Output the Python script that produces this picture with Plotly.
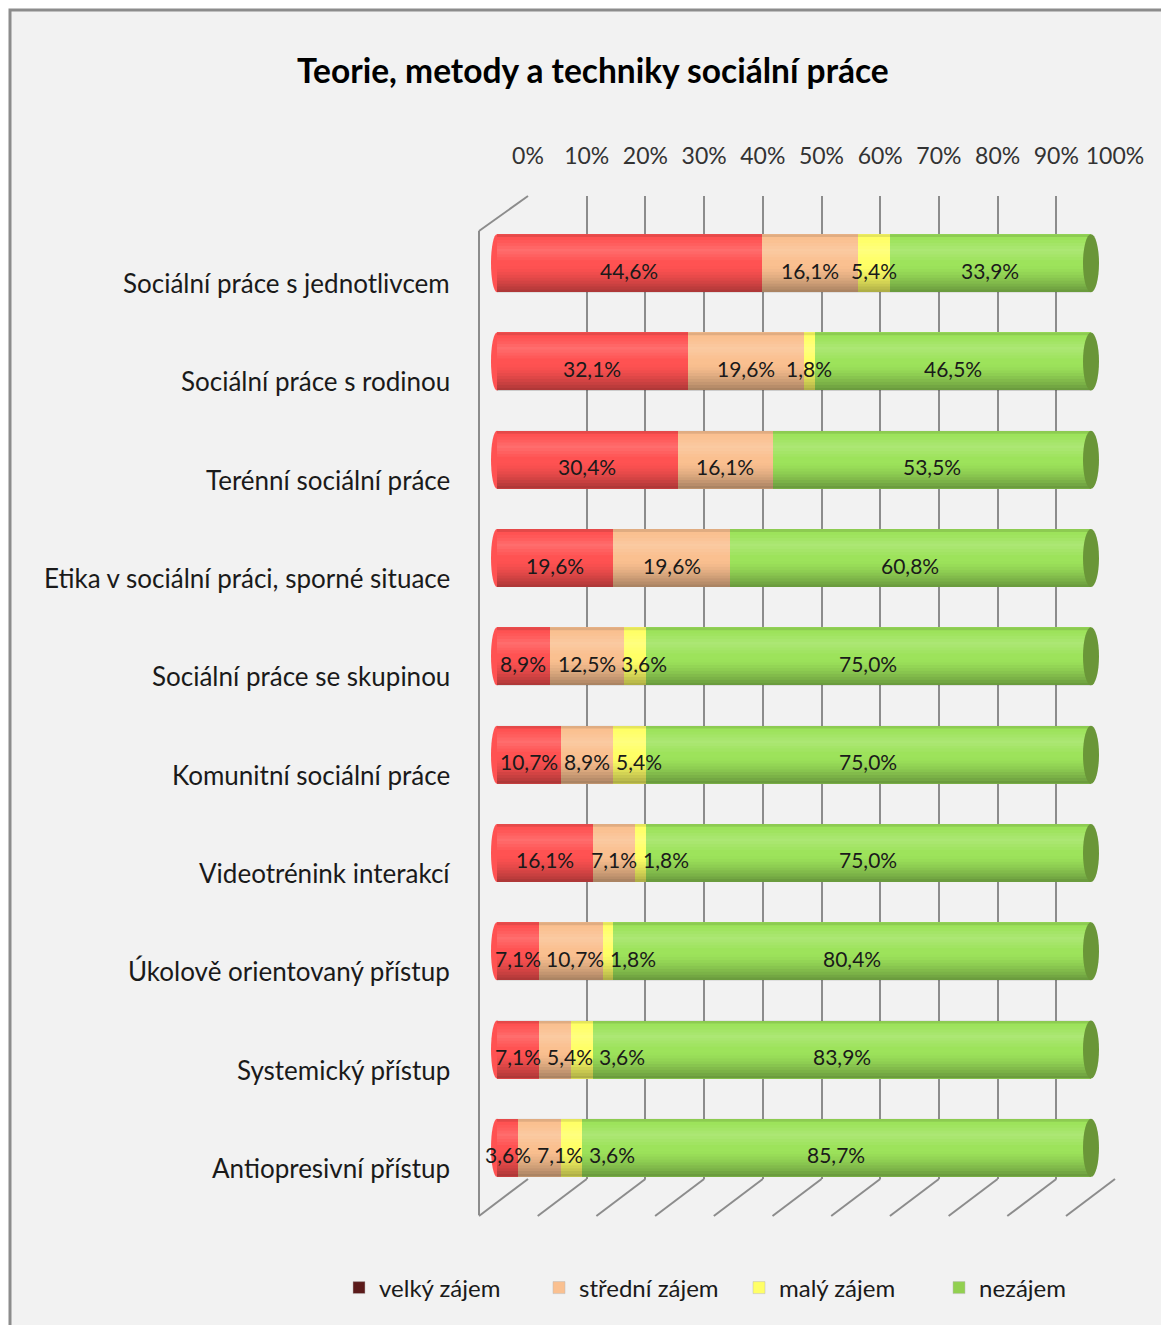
import plotly.graph_objects as go

W, H = 1169, 1325

categories = [
    "Sociální práce s jednotlivcem",
    "Sociální práce s rodinou",
    "Terénní sociální práce",
    "Etika v sociální práci, sporné situace",
    "Sociální práce se skupinou",
    "Komunitní sociální práce",
    "Videotrénink interakcí",
    "Úkolově orientovaný přístup",
    "Systemický přístup",
    "Antiopresivní přístup",
]
velky = [44.6, 32.1, 30.4, 19.6, 8.9, 10.7, 16.1, 7.1, 7.1, 3.6]
stredni = [16.1, 19.6, 16.1, 19.6, 12.5, 8.9, 7.1, 10.7, 5.4, 7.1]
maly = [5.4, 1.8, 0, 0, 3.6, 5.4, 1.8, 1.8, 3.6, 3.6]
nezajem = [33.9, 46.5, 53.5, 60.8, 75.0, 75.0, 75.0, 80.4, 83.9, 85.7]
series_names = ["velký zájem", "střední zájem", "malý zájem", "nezájem"]
tick_values = list(range(0, 101, 10))
tick_labels = [f"{v}%" for v in tick_values]

bar_colors = ["#FF5252", "#FAC090", "#FFFF66", "#9DE35B"]
cap_colors = ["#C83A3A", "#D9A070", "#D8D84A", "#6A9638"]
legend_colors = ["#5B1A1A", "#FAC090", "#FFFF66", "#92D050"]

FONT = "Lato"
OFF = 8  # page body margin


def px_x(p):
    return (p - OFF) / W


def px_y(p):
    return 1 - (p - OFF) / H


def fmt(v):
    return (f"{v:.1f}".replace(".", ",") + "%") if v else ""


# front plane pixel geometry
FRONT0, FRONT100 = 497, 1091
PX_PER_UNIT = (FRONT100 - FRONT0) / 100.0
PAD_UNITS = 2.0  # room for the rounded cylinder ends
CHAR_PX = 10.5
LABEL_GAP = 10.0

all_series = [velky, stredni, maly, nezajem]

# label positions: segment centres, nudged right where labels would collide
label_x = [[None] * len(categories) for _ in all_series]
for i in range(len(categories)):
    cum = 0.0
    prev_right = None
    for s, vals in enumerate(all_series):
        v = vals[i]
        if v:
            centre = cum + v / 2
            half = len(fmt(v)) * CHAR_PX / 2 / PX_PER_UNIT
            if prev_right is not None and centre - half < prev_right + LABEL_GAP / PX_PER_UNIT:
                centre = prev_right + LABEL_GAP / PX_PER_UNIT + half
            label_x[s][i] = centre
            prev_right = centre + half
        cum += v

fig = go.Figure()

# invisible helper trace for the back wall (gridlines + top tick labels)
fig.add_trace(go.Scatter(x=[0, 100], y=[0, 1], mode="markers",
                         marker=dict(opacity=0), hoverinfo="skip",
                         showlegend=False, xaxis="x", yaxis="y"))

for name, vals, col in zip(series_names, all_series, bar_colors):
    fig.add_trace(go.Bar(
        y=categories, x=vals, orientation="h", name=name,
        marker=dict(color=col, line=dict(width=0)),
        showlegend=False, xaxis="x2", yaxis="y2",
    ))

for name, col in zip(series_names, legend_colors):
    fig.add_trace(go.Bar(y=[None], x=[None], orientation="h", name=name,
                         marker=dict(color=col, line=dict(width=0.5, color="#bbbbbb")),
                         showlegend=True, xaxis="x2", yaxis="y2"))

shapes = [
    dict(type="rect", xref="paper", yref="paper", x0=px_x(10), x1=1.05,
         y0=px_y(10), y1=-0.05, fillcolor="#F2F2F2",
         line=dict(color="#8C8C8C", width=3), layer="below"),
]
grid_col = "#8C8C8C"
# left wall
shapes.append(dict(type="line", xref="paper", yref="paper",
                   x0=px_x(479), y0=px_y(231), x1=px_x(479), y1=px_y(1215),
                   line=dict(color=grid_col, width=2), layer="below"))
shapes.append(dict(type="line", xref="paper", yref="paper",
                   x0=px_x(479), y0=px_y(231), x1=px_x(528), y1=px_y(196),
                   line=dict(color=grid_col, width=2), layer="below"))
# floor diagonals from each gridline
for t in tick_values:
    xb = 528 + 5.87 * t
    shapes.append(dict(type="line", xref="paper", yref="paper",
                       x0=px_x(xb), y0=px_y(1179), x1=px_x(xb - 49), y1=px_y(1216),
                       line=dict(color=grid_col, width=2), layer="below"))

# cylinder look: rounded left end, smooth shading bands, right end cap
HALF = 0.295
NB = 20


def shade(t):
    # t: 0 = top edge, 1 = bottom edge -> (rgb, alpha)
    if t < 0.06:
        return "0,0,0", 0.10
    if t < 0.45:
        peak = 1 - abs(t - 0.28) / 0.2
        return "255,255,255", max(0.0, 0.16 * peak)
    if t < 0.55:
        return "0,0,0", 0.0
    return "0,0,0", 0.34 * ((t - 0.55) / 0.45) ** 1.4


for i, c in enumerate(categories):
    total = sum(v[i] for v in all_series)
    first = next(s for s, v in enumerate(all_series) if v[i])
    last = max(s for s, v in enumerate(all_series) if v[i])
    shapes.append(dict(type="circle", xref="x2", yref="y2", xsizemode="pixel",
                       xanchor=0, x0=-6, x1=6, y0=i - HALF, y1=i + HALF,
                       fillcolor=bar_colors[first], line=dict(width=0), layer="below"))
    for k in range(NB):
        t = (k + 0.5) / NB
        rgb, a = shade(t)
        if a <= 0.005:
            continue
        shapes.append(dict(type="rect", xref="x2", yref="y2", x0=0, x1=total,
                           y0=i - HALF + 2 * HALF * k / NB,
                           y1=i - HALF + 2 * HALF * (k + 1) / NB,
                           fillcolor=f"rgba({rgb},{a:.3f})",
                           line=dict(width=0), layer="above"))
    shapes.append(dict(type="circle", xref="x2", yref="y2", xsizemode="pixel",
                       xanchor=total, x0=-8, x1=8, y0=i - HALF, y1=i + HALF,
                       fillcolor=cap_colors[last], line=dict(width=0), layer="above"))

annotations = [
    dict(text="<b>Teorie, metody a techniky sociální práce</b>", xref="paper", yref="paper",
         x=px_x(593), y=px_y(70), xanchor="center", yanchor="middle", showarrow=False,
         font=dict(family=FONT, size=33.5, color="#000000")),
]
for c in categories:
    annotations.append(dict(text=c, xref="paper", yref="y2", x=px_x(452), y=c,
                            xanchor="right", yanchor="middle", yshift=-20,
                            showarrow=False,
                            font=dict(family=FONT, size=26, color="#1a1a1a")))
for s, vals in enumerate(all_series):
    for i, v in enumerate(vals):
        if v:
            annotations.append(dict(text=fmt(v), xref="x2", yref="y2",
                                    x=label_x[s][i], y=categories[i], yshift=-7,
                                    xanchor="center", yanchor="middle", showarrow=False,
                                    font=dict(family=FONT, size=21, color="#1a1a1a")))

fig.update_layout(
    width=W, height=H,
    margin=dict(l=0, r=0, t=0, b=0, pad=0, autoexpand=False),
    paper_bgcolor="white", plot_bgcolor="rgba(0,0,0,0)",
    barmode="stack", bargap=0.41,
    showlegend=True,
    legend=dict(orientation="h", x=px_x(339), y=px_y(1288), xanchor="left",
                yanchor="middle", traceorder="normal",
                font=dict(family=FONT, size=24, color="#1a1a1a"),
                bgcolor="rgba(0,0,0,0)", entrywidth=155, entrywidthmode="pixels",
                itemclick=False),
    xaxis=dict(domain=[px_x(528), px_x(1115)], range=[0, 100], side="top",
               tickvals=tick_values, ticktext=tick_labels, showgrid=True,
               gridcolor=grid_col, gridwidth=2, zeroline=False, showline=False,
               ticks="", ticklabelstandoff=26, automargin=False,
               tickfont=dict(family=FONT, size=23, color="#333333"), fixedrange=True),
    yaxis=dict(domain=[px_y(1179), px_y(196)], range=[0, 1], visible=False,
               fixedrange=True),
    xaxis2=dict(domain=[px_x(FRONT0 - PAD_UNITS * PX_PER_UNIT),
                        px_x(FRONT100 + PAD_UNITS * PX_PER_UNIT)],
                range=[-PAD_UNITS, 100 + PAD_UNITS], visible=False,
                anchor="y2", fixedrange=True),
    yaxis2=dict(domain=[px_y(1197), px_y(214)], type="category", autorange="reversed",
                visible=False, anchor="x2", fixedrange=True),
    shapes=shapes,
    annotations=annotations,
)

fig.write_html("out.html")
